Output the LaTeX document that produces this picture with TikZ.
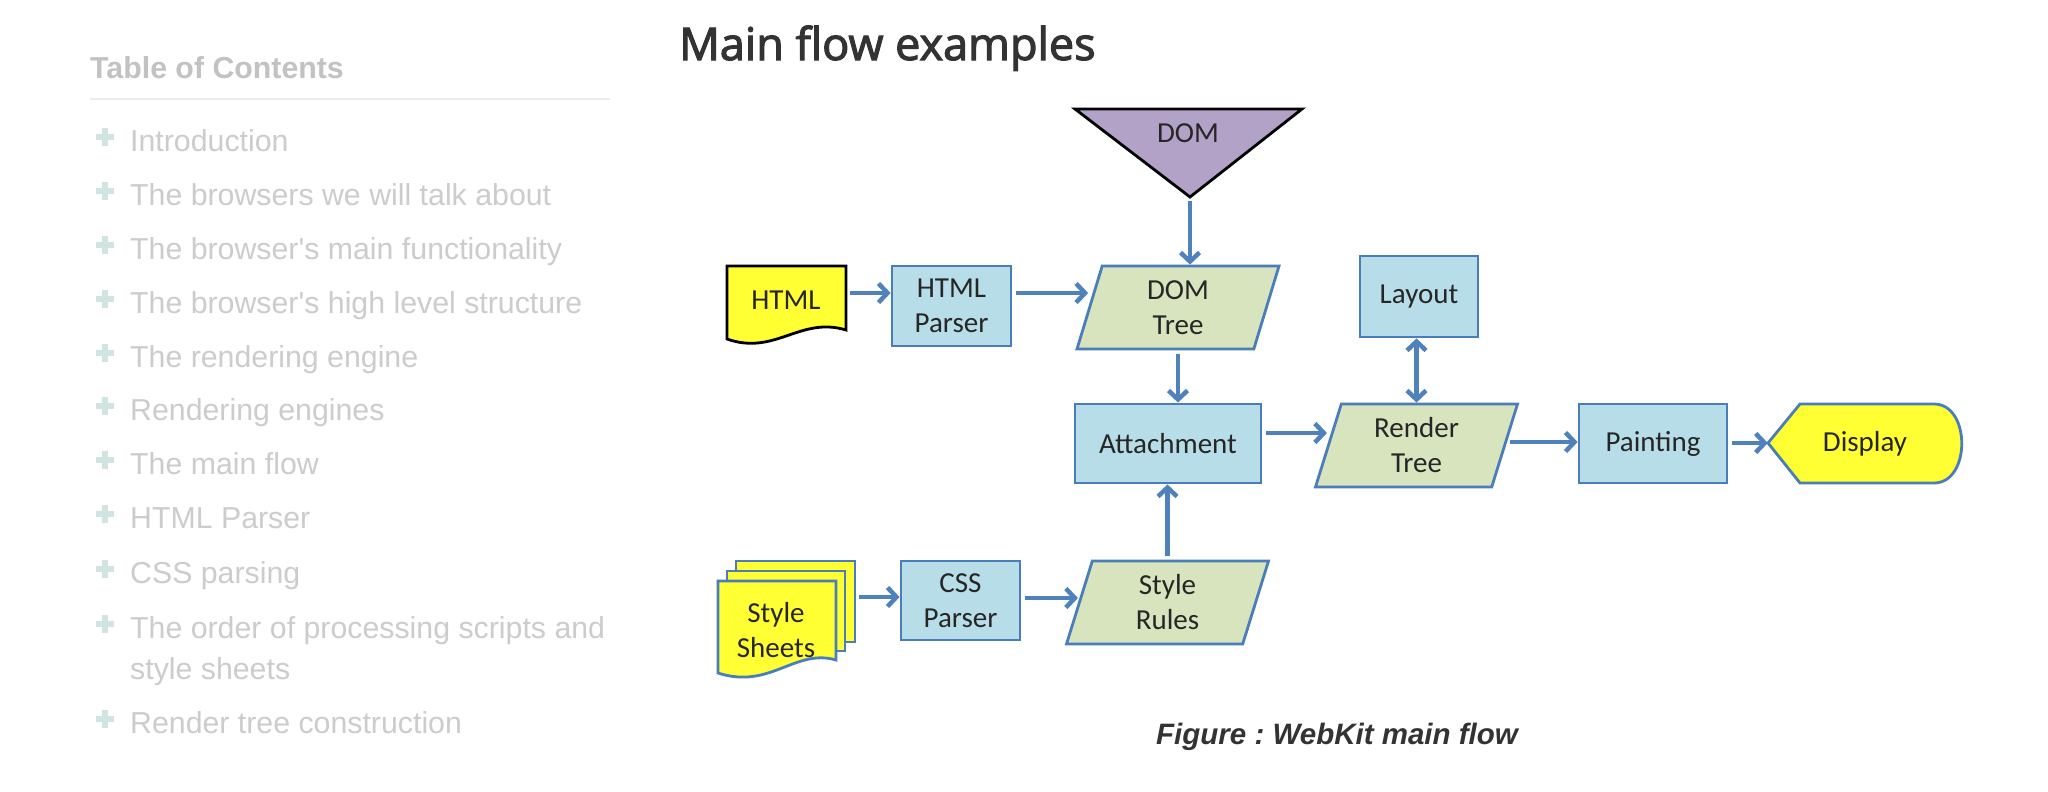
\documentclass[tikz,border=0pt]{standalone}
\usepackage{fontspec}
\setmainfont{Liberation Sans}
\newfontfamily\diagfont{Carlito}
\newfontfamily\titlefont[FakeBold=2.5]{Open Sans}
\usetikzlibrary{shapes.geometric, arrows.meta}
\frenchspacing

\definecolor{boxfill}{HTML}{B7DEE8}
\definecolor{boxline}{HTML}{4A7EBB}
\definecolor{datafill}{HTML}{D7E4BD}
\definecolor{domfill}{HTML}{B3A2C7}
\definecolor{docfill}{HTML}{FFFF33}
\definecolor{flowblue}{HTML}{4F81BD}
\definecolor{tocgray}{HTML}{CCCCCC}
\definecolor{plusgreen}{HTML}{D0E5E2}
\definecolor{titlegray}{HTML}{333333}

\begin{document}
\begin{tikzpicture}[x=1pt, y=-1pt, >={Straight Barb[length=9pt, width=19pt]}]
\tikzstyle{toc}=[anchor=base west, inner sep=0, text=tocgray, font=\fontsize{30.3}{35}\selectfont]
\tikzstyle{tochead}=[toc, text=black!24, font=\bfseries\fontsize{30.3}{35}\selectfont]
\tikzstyle{tocplus}=[rectangle, fill=plusgreen, minimum width=18pt, minimum height=6.5pt, inner sep=0,
  label={[fill=plusgreen, minimum width=6.5pt, minimum height=18pt, inner sep=0]center:}]
\tikzstyle{textonly}=[align=center, inner sep=0, text=black!85, font=\diagfont\fontsize{29}{35}\selectfont]
\tikzstyle{box}=[textonly, rectangle, draw=boxline, fill=boxfill, line width=2.8pt]
\tikzstyle{datashape}=[box, trapezium, trapezium left angle=65, trapezium right angle=115, trapezium stretches body, fill=datafill, minimum width=202pt, minimum height=83pt]
\tikzstyle{doc}=[draw=boxline, fill=docfill, line width=2.8pt]
\tikzstyle{connect}=[->, draw=flowblue, line width=4.5pt, shorten <=4pt]
\tikzstyle{twoway}=[<->, draw=flowblue, line width=4.5pt]

\useasboundingbox (0,0) rectangle (2048,792);
\fill[white] (0,0) rectangle (2048,792);

% table of contents
\node[tochead] (tochead) at (90,78) {Table of Contents};
\draw[black!7, line width=2pt] (90,99) -- (610,99);
\node[tocplus] (p1) at (105,137) {};
\node[toc] (t1) at (130,151) {Introduction};
\node[tocplus] (p2) at (105,191) {};
\node[toc] (t2) at (130,205) {The browsers we will talk about};
\node[tocplus] (p3) at (105,245) {};
\node[toc] (t3) at (130,259) {The browser\textquotesingle s main functionality};
\node[tocplus] (p4) at (105,299) {};
\node[toc] (t4) at (130,313) {The browser\textquotesingle s high level structure};
\node[tocplus] (p5) at (105,353) {};
\node[toc] (t5) at (130,367) {The rendering engine};
\node[tocplus] (p6) at (105,406) {};
\node[toc] (t6) at (130,420) {Rendering engines};
\node[tocplus] (p7) at (105,460) {};
\node[toc] (t7) at (130,474) {The main flow};
\node[tocplus] (p8) at (105,514) {};
\node[toc] (t8) at (130,528) {HTML Parser};
\node[tocplus] (p9) at (105,569) {};
\node[toc] (t9) at (130,583) {CSS parsing};
\node[tocplus] (p10) at (105,624) {};
\node[toc] (t10) at (130,638) {The order of processing scripts and};
\node[toc] (t10b) at (130,679) {style sheets};
\node[tocplus] (p11) at (105,719) {};
\node[toc] (t11) at (130,733) {Render tree construction};

% heading and caption
\node[anchor=base west, inner sep=0, text=titlegray, font=\titlefont\fontsize{45}{50}\selectfont] (title) at (679,60) {Main flow examples};
\node[anchor=base west, inner sep=0, text=titlegray, font=\bfseries\itshape\fontsize{29.5}{35}\selectfont] (caption) at (1156,744) {Figure : WebKit main flow};

% drawn shapes
\draw[doc, draw=black] (727,266) -- (846,266) -- (846,330) .. controls (800,316) and (775,356) .. (727,339) -- cycle;
\draw[doc] (736,561) rectangle (855,642);
\draw[doc] (727,571) rectangle (845,651);
\draw[doc] (718,581) -- (836,581) -- (836,660) .. controls (795,648) and (770,690) .. (718,673) -- cycle;
\draw[doc] (1768,443) -- (1800,404) -- (1934,404) .. controls (1971,404) and (1971,483) .. (1934,483) -- (1800,483) -- cycle;
\draw[line width=2.8pt, fill=domfill] (1075,109) -- (1302,109) -- (1190,197) -- cycle;

% nodes
\node[textonly] (dom) at (1188,133) {DOM};
\coordinate (domtip) at (1190,197);
\node[textonly, minimum width=119pt] (html) at (786,300) {HTML};
\node[textonly, minimum width=158pt] (sheets) at (776,630) {Style\\Sheets};
\node[textonly, minimum width=194pt] (display) at (1865,443.5) {Display};
\node[box, minimum width=119pt, minimum height=80pt] (hparser) at (951.5,306) {HTML\\Parser};
\node[box, minimum width=119pt, minimum height=79pt] (cparser) at (960.5,600.5) {CSS\\Parser};
\node[box, minimum width=186pt, minimum height=79pt] (attach) at (1168,443.5) {Attachment};
\node[box, minimum width=118pt, minimum height=81pt] (layout) at (1419,296.5) {Layout};
\node[box, minimum width=148pt, minimum height=79pt] (paint) at (1653,443.5) {Painting};
\node[datashape] (domtree) at (1178,307.5) {DOM\\Tree};
\node[datashape] (rtree) at (1416.5,445.5) {Render\\Tree};
\node[datashape] (srules) at (1167.5,602.5) {Style\\Rules};

% connectors
\draw[connect] (html.east |- 0,293) -- (hparser.west |- 0,293);
\draw[connect] (hparser.east |- 0,293) -- (domtree.west |- 0,293);
\draw[connect] (domtip) -- (domtip |- domtree.north);
\draw[connect] (domtree.south -| domtree.center) -- (attach.north -| domtree.center);
\draw[connect] (srules.north -| srules.center) -- (attach.south -| srules.center);
\draw[connect] (attach.east |- 0,433) -- (rtree.west |- 0,433);
\draw[twoway] (rtree.north -| rtree.center) -- (layout.south -| rtree.center);
\draw[connect] (rtree.east |- 0,442) -- (paint.west |- 0,442);
\draw[connect] (paint.east |- 0,443) -- (display.west |- 0,443);
\draw[connect] (sheets.east |- 0,597) -- (cparser.west |- 0,597);
\draw[connect] (cparser.east |- 0,598) -- (srules.west |- 0,598);
\end{tikzpicture}
\end{document}
